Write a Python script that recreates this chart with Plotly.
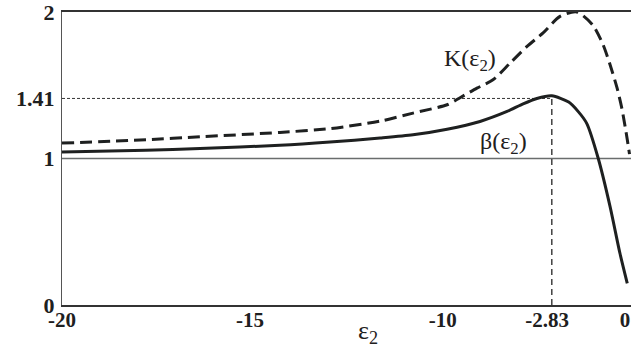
import plotly.graph_objects as go

# axis coordinate follows the picture's horizontal placement
beta_x = [-20, -17.02, -15.10, -12.26, -10.48, -8.70, -7.53, -6.32, -5.15, -4.19, -3.62, -3.13, -2.60, -2.0, -1.66, -1.36, -0.95, -0.53, -0.18, 0.08]
beta_y = [1.045, 1.056, 1.068, 1.09, 1.112, 1.14, 1.162, 1.20, 1.253, 1.321, 1.373, 1.41, 1.428, 1.385, 1.32, 1.24, 1.0, 0.672, 0.353, 0.148]

k_x = [-20, -17.0, -15.10, -12.26, -10.48, -8.70, -7.53, -6.32, -5.86, -5.26, -4.69, -4.09, -3.48, -2.91, -2.31, -1.71, -1.14, -0.78, -0.53, -0.28, -0.11, 0.08, 0.16]
k_y = [1.105, 1.128, 1.148, 1.178, 1.204, 1.255, 1.31, 1.367, 1.415, 1.48, 1.537, 1.65, 1.765, 1.857, 1.97, 2.0, 1.91, 1.777, 1.64, 1.48, 1.34, 1.13, 1.03]

peak_x = -2.60
peak_y = 1.41
unity_y = 1.0

x_tick_pos = [-20, -13.32, -6.47, -2.77, 0.0]
x_tick_labels = ["-20", "-15", "-10", "-2.83", "0"]
y_tick_pos = [0, 1, 1.41, 2]
y_tick_labels = ["0", "1", "1.41", "2"]

ink = "#1e2020"
serif = "Liberation Serif"

fig = go.Figure()

# reference lines
fig.add_trace(go.Scatter(x=[-20, 0.25], y=[unity_y, unity_y], mode="lines",
                         line=dict(color="#6a6d6d", width=1.3), hoverinfo="skip", showlegend=False))
fig.add_trace(go.Scatter(x=[-20, peak_x], y=[peak_y, peak_y], mode="lines",
                         line=dict(color="#333", width=1, dash="3px,2px"), hoverinfo="skip", showlegend=False))
fig.add_trace(go.Scatter(x=[peak_x, peak_x], y=[0, peak_y], mode="lines",
                         line=dict(color="#333", width=1.4, dash="6px,4px"), hoverinfo="skip", showlegend=False))

fig.add_trace(go.Scatter(x=k_x, y=k_y, mode="lines", name="K",
                         line=dict(color=ink, width=3, dash="12px,6px", shape="spline", smoothing=0.7),
                         showlegend=False))
fig.add_trace(go.Scatter(x=beta_x, y=beta_y, mode="lines", name="beta",
                         line=dict(color=ink, width=3, shape="spline", smoothing=0.7),
                         showlegend=False))

fig.add_annotation(x=-5.5, y=1.674, text="K(ε<sub>2</sub>)", showarrow=False,
                   font=dict(family=serif, size=24, color=ink))
fig.add_annotation(x=-4.33, y=1.107, text="β(ε<sub>2</sub>)", showarrow=False,
                   font=dict(family=serif, size=24, color=ink))
# axis title placed where the picture shows it
fig.add_annotation(x=-9.13, y=-0.155, yref="paper", text="ε<sub>2</sub>", showarrow=False,
                   font=dict(family=serif, size=26, color=ink))

fig.update_layout(
    width=631, height=360,
    margin=dict(l=62, r=0, t=12, b=55),
    paper_bgcolor="white", plot_bgcolor="white",
    font=dict(family=serif, color=ink),
    xaxis=dict(range=[-20, 0.213], tickvals=x_tick_pos, ticktext=x_tick_labels,
               showgrid=False, zeroline=False, showline=True, linecolor="#333", linewidth=1.6,
               mirror=True, ticks="", ticklabeloverflow="allow", ticklabelstandoff=-5,
               tickfont=dict(family=serif, size=21, weight="bold")),
    yaxis=dict(range=[0, 2], tickvals=y_tick_pos, ticktext=y_tick_labels,
               showgrid=False, zeroline=False, showline=True, linecolor="#555", linewidth=1.2,
               ticks="", ticklabeloverflow="allow", ticklabelstandoff=2,
               tickfont=dict(family=serif, size=22, weight="bold")),
)

fig.write_html("out.html")
